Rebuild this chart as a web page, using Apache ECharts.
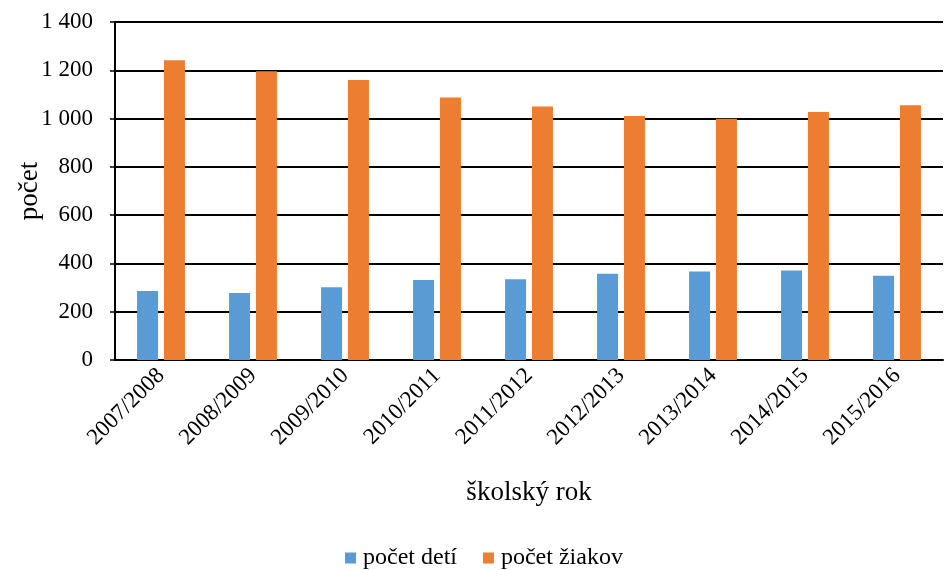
<!DOCTYPE html>
<html><head><meta charset="utf-8">
<script src="https://cdn.jsdelivr.net/npm/echarts@6/dist/echarts.min.js"></script>
<style>html,body{margin:0;padding:0;background:#fff}#c{width:944px;height:570px}</style>
</head><body><div id="c"></div>
<script>
const categories = ['2007/2008','2008/2009','2009/2010','2010/2011','2011/2012','2012/2013','2013/2014','2014/2015','2015/2016'];
const detiValues = [286, 277, 301, 331, 334, 357, 367, 371, 349];
const ziakovValues = [1242, 1196, 1160, 1087, 1050, 1011, 999, 1027, 1055];
const seriesNames = ['počet detí', 'počet žiakov'];
const font = 'Liberation Serif';
const chart = echarts.init(document.getElementById('c'));
chart.setOption({
  animation: false,
  textStyle: { fontFamily: font },
  grid: { left: 115, right: 1, top: 22, bottom: 210, containLabel: false, outerBoundsMode: 'none' },
  legend: {
    top: 541, left: 340, itemWidth: 11, itemHeight: 11, itemGap: 26,
    icon: 'rect',
    textStyle: { fontFamily: font, fontSize: 24, color: '#000', padding: [0, 0, 0, 2] },
    data: seriesNames
  },
  xAxis: {
    type: 'category', data: categories,
    name: 'školský rok', nameLocation: 'middle', nameGap: 119, nameMoveOverlap: false,
    nameTextStyle: { fontFamily: font, fontSize: 27, color: '#000' },
    axisLine: { show: true, lineStyle: { color: '#000', width: 2 } },
    axisTick: { show: false },
    axisLabel: { rotate: 45, fontFamily: font, fontSize: 23, color: '#000', margin: 12 }
  },
  yAxis: {
    type: 'value', min: 0, max: 1400, interval: 200,
    name: 'počet', nameLocation: 'middle', nameGap: 72, nameMoveOverlap: false,
    nameTextStyle: { fontFamily: font, fontSize: 27, color: '#000' },
    axisLine: { show: true, lineStyle: { color: '#000', width: 2 } },
    axisTick: { show: true, length: 5, lineStyle: { color: '#000', width: 1.5 } },
    axisLabel: { fontFamily: font, fontSize: 23, color: '#000', margin: 22,
      formatter: v => String(v).replace(/\B(?=(\d{3})+(?!\d))/g, ' ') },
    splitLine: { show: true, lineStyle: { color: '#000', width: 2 } }
  },
  series: [
    { name: seriesNames[0], type: 'bar', data: detiValues, barWidth: 21, barGap: '28%',
      itemStyle: { color: '#5B9BD5' } },
    { name: seriesNames[1], type: 'bar', data: ziakovValues, barWidth: 21,
      itemStyle: { color: '#ED7D31' } }
  ]
});
</script></body></html>
